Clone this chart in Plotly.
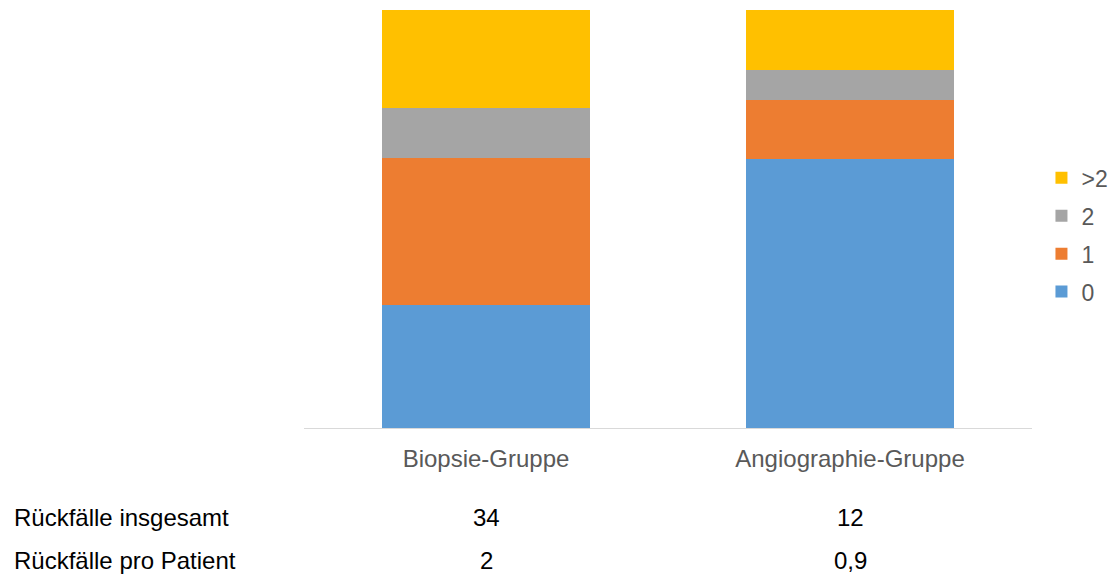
import plotly.graph_objects as go

categories = ["Biopsie-Gruppe", "Angiographie-Gruppe"]
series_names = ["0", "1", "2", ">2"]
# patient counts per number of relapses
counts_0 = [5, 9]
counts_1 = [6, 2]
counts_2 = [2, 1]
counts_gt2 = [4, 2]
colors = ["#5B9BD5", "#ED7D31", "#A5A5A5", "#FFC000"]

row_labels = ["Rückfälle insgesamt", "Rückfälle pro Patient"]
relapses_total = ["34", "12"]
relapses_per_patient = ["2", "0,9"]

font_family = "Liberation Sans, Arial, sans-serif"

fig = go.Figure()
for i, (name, vals, col) in enumerate(zip(series_names, [counts_0, counts_1, counts_2, counts_gt2], colors)):
    fig.add_trace(go.Bar(x=categories, y=vals, name=name, marker_color=col,
                         marker_line_width=0, legendgroup=name,
                         legendrank=1000 - i))

fig.update_layout(
    barmode="stack",
    barnorm="percent",
    bargap=0.43,
    width=1115, height=574,
    margin=dict(l=304, r=83, t=10, b=146, autoexpand=False),
    paper_bgcolor="white", plot_bgcolor="white",
    font=dict(family=font_family, color="#595959"),
    legend=dict(x=1.013, y=0.462, xanchor="left", yanchor="middle",
                font=dict(size=23, color="#595959"), tracegroupgap=5,
                traceorder="grouped", itemwidth=30),
    xaxis=dict(showline=True, linecolor="#D9D9D9", linewidth=1, ticks="",
               tickfont=dict(size=24, color="#595959"), ticklabelstandoff=9),
    yaxis=dict(visible=False, range=[0, 100]),
)

row_y = [-0.2153, -0.3158]
for label, yv in zip(row_labels, row_y):
    fig.add_annotation(text=label, xref="paper", yref="paper", x=-0.401, y=yv,
                       xanchor="left", yanchor="middle", showarrow=False,
                       font=dict(size=24, color="#000000", family=font_family))
for vals, yv in zip([relapses_total, relapses_per_patient], row_y):
    for cat, v in zip(categories, vals):
        fig.add_annotation(text=v, xref="x", yref="paper", x=cat, y=yv,
                           xanchor="center", yanchor="middle", showarrow=False,
                           font=dict(size=24, color="#000000", family=font_family))

fig.write_html("out.html")
